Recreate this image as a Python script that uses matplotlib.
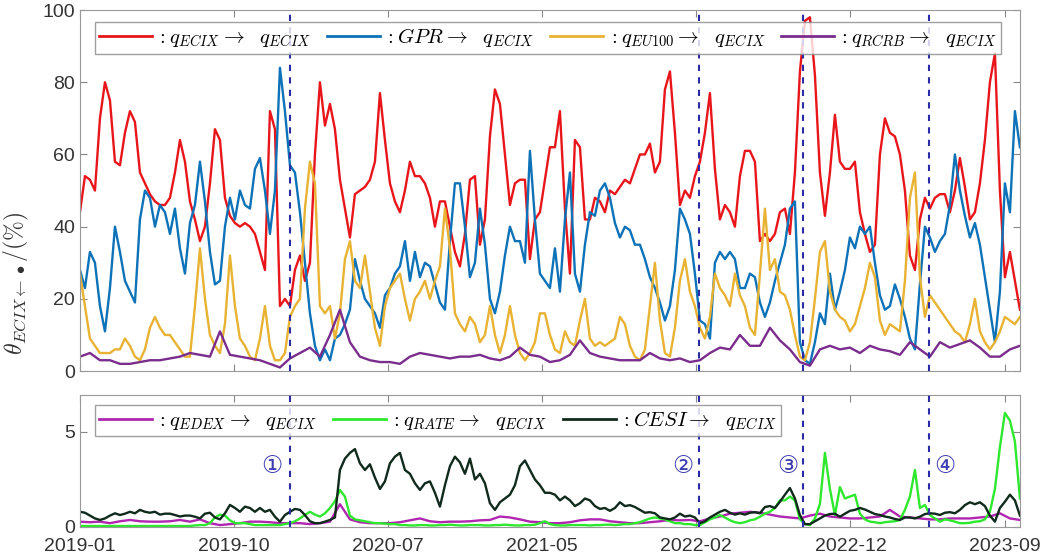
import numpy as np
import matplotlib
matplotlib.use("Agg")
import matplotlib.pyplot as plt

# x axis: trading-day index, ticks every 200 days
tick_days = [0, 200, 400, 600, 800, 1000, 1200]
tick_labels = ['2019-01', '2019-10', '2020-07', '2021-05', '2022-02', '2022-12', '2023-09']
last_day = 1220

# event dates (day index) and labels
event_days = [273, 803, 938, 1102]
event_marks = ['\u2460', '\u2461', '\u2462', '\u2463']
event_label_days = [249, 783, 919, 1122]

# top panel: spillover to ECIX (%)
ecix = [44, 54, 53, 50, 70, 80, 75, 58, 57, 66,
        72, 69, 55, 52, 49, 47, 46, 46, 48, 55,
        64, 58, 47, 42, 36, 40, 52, 67, 64, 48,
        43, 41, 40, 41, 40, 38, 33, 28, 72, 67,
        18, 20, 18, 28, 32, 25, 30, 60, 80, 68,
        74, 67, 53, 45, 37, 49, 50, 51, 53, 58,
        77, 64, 52, 47, 44, 50, 58, 54, 54, 52,
        48, 40, 47, 47, 40, 33, 29, 38, 53, 54,
        35, 42, 65, 78, 74, 60, 46, 52, 53, 53,
        31, 42, 44, 53, 62, 62, 72, 45, 27, 64,
        62, 42, 42, 48, 47, 44, 50, 49, 51, 53,
        52, 56, 60, 60, 63, 55, 58, 78, 83, 66,
        46, 50, 48, 54, 58, 66, 77, 56, 42, 46,
        44, 40, 54, 61, 61, 58, 36, 38, 36, 38,
        44, 45, 38, 55, 83, 97, 98, 82, 55, 43,
        55, 71, 58, 56, 56, 58, 44, 38, 33, 35,
        60, 70, 66, 65, 60, 50, 32, 28, 42, 48,
        45, 48, 49, 49, 44, 50, 59, 51, 42, 44,
        52, 64, 80, 88, 50, 26, 33, 25, 17]

gpr = [28, 23, 33, 30, 18, 11, 23, 40, 33, 25,
       22, 19, 42, 50, 48, 40, 46, 44, 38, 45,
       34, 27, 41, 46, 58, 47, 33, 24, 25, 40,
       48, 42, 50, 46, 45, 56, 59, 50, 38, 50,
       84, 72, 57, 55, 44, 30, 16, 7, 3, 6,
       3, 9, 10, 13, 17, 31, 25, 20, 18, 16,
       12, 21, 23, 27, 29, 36, 25, 33, 26, 30,
       29, 24, 19, 17, 36, 52, 52, 40, 26, 30,
       45, 35, 20, 16, 22, 32, 40, 36, 36, 30,
       61, 42, 27, 25, 23, 34, 22, 42, 55, 27,
       22, 35, 44, 43, 50, 52, 48, 41, 37, 40,
       39, 35, 35, 31, 26, 23, 19, 14, 18, 28,
       45, 42, 38, 27, 14, 13, 9, 30, 33, 31,
       33, 31, 23, 23, 27, 26, 19, 15, 19, 25,
       30, 35, 45, 47, 8, 3, 2, 8, 16, 13,
       27, 17, 22, 28, 37, 34, 40, 38, 40, 30,
       21, 17, 18, 24, 20, 15, 9, 6, 24, 40,
       37, 33, 36, 38, 46, 60, 50, 43, 37, 41,
       35, 26, 17, 8, 22, 52, 44, 72, 62]

eu100 = [27, 18, 9, 7, 5, 5, 5, 6, 6, 9,
         7, 4, 3, 6, 12, 15, 12, 10, 10, 8,
         6, 4, 4, 18, 34, 20, 10, 7, 5, 13,
         32, 18, 9, 7, 4, 3, 9, 18, 7, 3,
         3, 5, 15, 18, 20, 45, 58, 52, 18, 16,
         18, 9, 16, 31, 36, 25, 23, 32, 22, 12,
         7, 18, 23, 25, 27, 20, 14, 20, 22, 25,
         20, 25, 29, 45, 34, 16, 13, 11, 15, 13,
         8, 10, 18, 10, 5, 10, 18, 10, 5, 3,
         5, 8, 16, 16, 10, 6, 5, 11, 8, 7,
         14, 20, 9, 7, 8, 7, 8, 9, 15, 13,
         7, 4, 3, 6, 18, 30, 14, 5, 4, 12,
         25, 31, 22, 18, 12, 9, 15, 27, 23, 21,
         18, 27, 21, 18, 12, 10, 27, 45, 28, 31,
         22, 21, 17, 10, 4, 3, 8, 20, 33, 36,
         22, 17, 15, 14, 11, 13, 18, 23, 30, 26,
         14, 10, 13, 12, 11, 25, 48, 55, 26, 15,
         21, 19, 17, 15, 13, 11, 10, 8, 13, 20,
         11, 8, 6, 8, 11, 15, 14, 13, 15]

rcrb = [4, 5, 3, 3, 2, 2, 2.5, 3, 3, 3.5,
        4, 5, 4.5, 4, 11, 4.5, 4, 3.5, 3, 2,
        1, 3.5, 5, 6.5, 4, 10, 17, 8, 4, 3,
        2.5, 2.5, 2, 4, 5, 4.5, 4, 3.5, 4, 4,
        4.5, 3.5, 3, 4, 6.5, 4.5, 4, 2.5, 3, 4.5,
        8.5, 5, 4, 3.5, 3, 3, 3, 5, 3.5, 3,
        3.5, 2.5, 3, 5, 6.5, 6, 10, 7, 7, 12,
        8.5, 6, 2.5, 1.5, 6, 7, 6, 6.5, 5, 7,
        6, 5.5, 4.5, 8, 6, 4, 8, 6.5, 7.5, 8.5,
        6.5, 4, 4, 6, 7]

# bottom panel
edex = [0.28, 0.25, 0.28, 0.2, 0.3, 0.37, 0.3, 0.28, 0.28, 0.3,
        0.37, 0.28, 0.4, 0.2, 0.1, 0.15, 0.2, 0.28, 0.28, 0.25,
        0.2, 0.2, 0.2, 0.15, 0.2, 0.28, 1.2, 0.4, 0.25, 0.2,
        0.2, 0.2, 0.25, 0.35, 0.45, 0.3, 0.25, 0.28, 0.28, 0.3,
        0.35, 0.37, 0.55, 0.5, 0.4, 0.28, 0.25, 0.2, 0.2, 0.25,
        0.35, 0.4, 0.4, 0.3, 0.25, 0.2, 0.2, 0.25, 0.3, 0.37,
        0.35, 0.37, 0.3, 0.45, 0.55, 0.7, 0.75, 0.8, 0.75, 0.65,
        0.55, 0.5, 0.45, 0.6, 0.7, 0.55, 0.5, 0.45, 0.45, 0.5,
        0.55, 0.9, 0.55, 0.5, 0.45, 0.4, 0.4, 0.45, 0.45, 0.45,
        0.5, 0.55, 0.72, 0.45, 0.37]

rate = [0.05, 0.05, 0.05, 0.05, 0.05, 0.05, 0.05, 0.05, 0.05, 0.05,
        0.05, 0.05, 0.05, 0.05, 0.05, 0.05, 0.05, 0.05, 0.05, 0.05,
        0.05, 0.05, 0.05, 0.08, 0.1, 0.1, 0.2, 0.5, 0.65, 0.6,
        0.35, 0.2, 0.2, 0.2, 0.15, 0.1, 0.1, 0.1, 0.1, 0.1,
        0.1, 0.15, 0.2, 0.3, 0.45, 0.63, 0.8, 0.65, 0.55, 0.72,
        1.0, 1.35, 1.95, 1.6, 0.6, 0.4, 0.35, 0.3, 0.25, 0.2,
        0.2, 0.18, 0.15, 0.15, 0.1, 0.1, 0.08, 0.08, 0.1, 0.1,
        0.08, 0.08, 0.1, 0.1, 0.12, 0.1, 0.08, 0.08, 0.1, 0.1,
        0.1, 0.08, 0.08, 0.1, 0.1, 0.12, 0.1, 0.08, 0.08, 0.1,
        0.1, 0.12, 0.2, 0.3, 0.15, 0.1, 0.08, 0.08, 0.1, 0.1,
        0.1, 0.1, 0.08, 0.1, 0.1, 0.12, 0.12, 0.1, 0.12, 0.15,
        0.15, 0.2, 0.25, 0.35, 0.45, 0.5, 0.45, 0.4, 0.3, 0.2,
        0.2, 0.15, 0.15, 0.1, 0.1, 0.25, 0.4, 0.5, 0.63, 0.5,
        0.35, 0.25, 0.2, 0.25, 0.35, 0.4, 0.54, 0.7, 0.8, 1.0,
        1.4, 1.4, 1.6, 1.4, 0.4, 0.15, 0.1, 0.45, 1.2, 3.9,
        2.0, 0.63, 2.1, 1.5, 1.6, 1.7, 0.7, 0.4, 0.28, 0.25,
        0.2, 0.25, 0.28, 0.3, 0.37, 0.9, 1.6, 3.0, 1.0, 1.16,
        0.63, 0.45, 0.28, 0.4, 0.35, 0.28, 0.2, 0.2, 0.22, 0.28,
        0.3, 0.4, 0.8, 2.0, 4.2, 6.0, 5.6, 4.5, 1.5]

cesi = [0.8, 0.75, 0.6, 0.45, 0.37, 0.45, 0.6, 0.72, 0.63, 0.7,
        0.8, 0.72, 0.9, 0.8, 0.75, 0.8, 0.65, 0.7, 0.7, 0.63,
        0.55, 0.6, 0.6, 0.54, 0.45, 0.7, 0.75, 0.5, 0.4, 0.72,
        1.16, 1.0, 0.8, 1.07, 1.0, 0.8, 1.0, 0.8, 0.9, 0.54,
        0.28, 0.63, 0.8, 0.95, 0.9, 0.63, 0.3, 0.2, 0.2, 0.28,
        0.37, 0.5, 3.0, 3.6, 3.9, 4.1, 3.35, 3.0, 3.3, 2.6,
        2.0, 2.4, 3.35, 3.7, 3.9, 3.0, 2.8, 2.3, 1.95, 2.3,
        2.4, 1.8, 1.07, 2.2, 3.2, 3.7, 3.4, 2.8, 3.6, 2.5,
        2.8, 2.3, 1.25, 0.9, 1.3, 1.5, 1.7, 2.2, 3.2, 3.5,
        3.0, 2.5, 2.2, 1.8, 1.8, 1.7, 1.4, 1.6, 1.4, 1.1,
        1.25, 1.5, 1.4, 1.1, 0.95, 1.0, 0.85, 1.0, 1.3, 1.1,
        1.15, 1.05, 0.9, 0.75, 0.78, 0.72, 0.5, 0.45, 0.4, 0.5,
        0.7, 0.55, 0.6, 0.5, 0.2, 0.3, 0.5, 0.65, 0.8, 0.9,
        0.75, 0.65, 0.72, 0.65, 0.75, 0.78, 0.72, 1.05, 1.1, 1.0,
        1.33, 1.7, 2.05, 1.5, 0.63, 0.15, 0.15, 0.3, 0.45, 0.6,
        0.68, 0.7, 0.54, 0.7, 0.85, 0.9, 1.0, 0.92, 0.8, 0.68,
        0.63, 0.55, 0.5, 0.42, 0.37, 0.5, 0.5, 0.45, 0.54, 0.68,
        0.72, 0.7, 0.63, 0.75, 0.78, 0.72, 0.9, 1.15, 1.3, 1.2,
        1.3, 1.1, 0.6, 0.28, 1.0, 1.33, 1.7, 1.4, 0.6]

top_series = [ecix, gpr, eu100, rcrb]
top_labels = [r'$: q_{ECIX} \rightarrow\ \ q_{ECIX}$', r'$: GPR \rightarrow\ \ q_{ECIX}$',
              r'$: q_{EU100} \rightarrow\ \ q_{ECIX}$', r'$: q_{RCRB} \rightarrow\ \ q_{ECIX}$']
top_colors = ['#e8161b', '#0d72b8', '#e8b232', '#7a2d8c']

bot_series = [edex, rate, cesi]
bot_labels = [r'$: q_{EDEX} \rightarrow\ \ q_{ECIX}$', r'$: q_{RATE} \rightarrow\ \ q_{ECIX}$',
              r'$: CESI \rightarrow\ \ q_{ECIX}$']
bot_colors = ['#b026b0', '#2ee82e', '#102a1c']

plt.rcParams['font.family'] = ['Liberation Sans', 'DejaVu Sans']
plt.rcParams['mathtext.fontset'] = 'cm'

fig = plt.figure(figsize=(10.52, 5.58), dpi=100)
ax1 = fig.add_axes([0.076, 0.335, 0.8935, 0.647])
ax2 = fig.add_axes([0.076, 0.0556, 0.8935, 0.2366])

for s, lab, c in zip(top_series, top_labels, top_colors):
    x = np.linspace(0, last_day, len(s))
    ax1.plot(x, s, color=c, lw=1.7, label=lab)

for s, lab, c in zip(bot_series, bot_labels, bot_colors):
    x = np.linspace(0, last_day, len(s))
    ax2.plot(x, s, color=c, lw=1.7, label=lab)

for ax in (ax1, ax2):
    for d in event_days:
        ax.axvline(d, color='#2b2ba6', ls=(0, (3, 3)), lw=1.5, zorder=5)
    ax.set_xlim(0, last_day)
    ax.set_xticks(tick_days)
    ax.tick_params(direction='in', length=5, top=True, right=True,
                   colors='#888888', labelcolor='#333333', labelsize=14)
    for sp in ax.spines.values():
        sp.set_color('#999999')

ax1.set_ylim(0, 100)
ax1.set_yticks([0, 20, 40, 60, 80, 100])
ax1.tick_params(labelbottom=False)

ax2.set_ylim(0, 6.95)
ax2.set_yticks([0, 5])
ax2.set_xticklabels(tick_labels)
ax2.tick_params(axis='x', pad=8)

for d, m in zip(event_label_days, event_marks):
    ax2.text(d, 3.2, m, color='#3c3cb0', fontsize=17, ha='center', va='center',
             family=['DejaVu Sans', 'Noto Sans CJK SC'])

leg_kw = dict(ncol=4, frameon=True, fancybox=False, edgecolor='#888888',
              fontsize=15, handlelength=2.55, handletextpad=0.2, columnspacing=0.75,
              borderpad=0.2, borderaxespad=0.0, loc='upper left')
l1 = ax1.legend(bbox_to_anchor=(0.016, 0.966), **leg_kw)
leg_kw['ncol'] = 3
l2 = ax2.legend(bbox_to_anchor=(0.016, 0.925), **leg_kw)
for lg in (l1, l2):
    lg.get_frame().set_linewidth(1.0)
    for h in lg.get_lines():
        h.set_linewidth(2.0)

fig.text(0.016, 0.493, r'$\theta_{ECIX\leftarrow\bullet}/(\%)$', rotation=90,
         ha='center', va='center', fontsize=17, color='#333333')

fig.savefig('out.png', dpi=100)
